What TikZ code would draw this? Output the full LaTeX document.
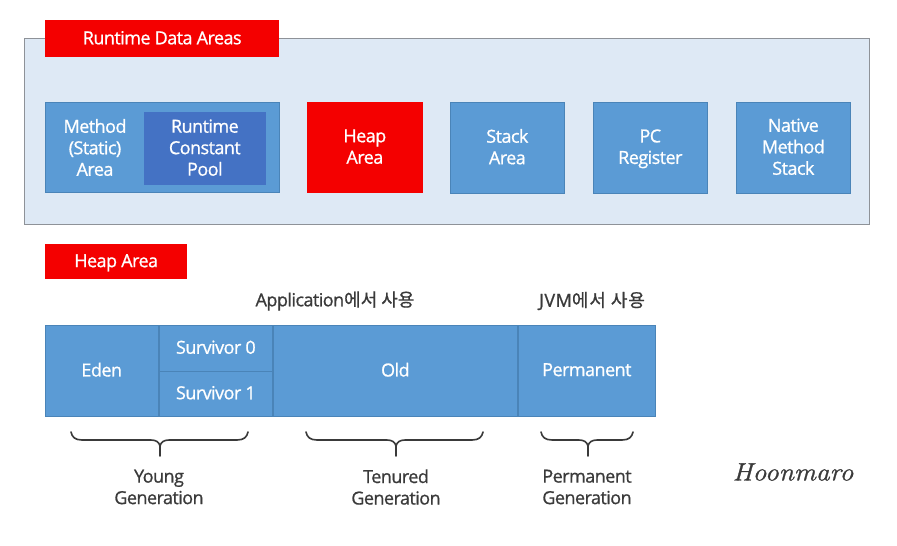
\documentclass[tikz,border=0pt]{standalone}
\usepackage{fontspec}
\setmainfont{Open Sans}[FakeBold=0.9]
\newfontfamily\krfont{Noto Sans CJK KR}[FakeBold=0.6]
\newfontfamily\signfont{Latin Modern Roman}[FakeBold=1.1,FakeStretch=1.1]
\definecolor{panelblue}{HTML}{DEE9F5}
\definecolor{panelline}{HTML}{8E9298}
\definecolor{boxblue}{HTML}{5B9BD5}
\definecolor{boxline}{HTML}{4A84B8}
\definecolor{deepblue}{HTML}{4472C4}
\definecolor{alertred}{HTML}{F40000}
\definecolor{inkgray}{HTML}{3A3A3A}
\tikzset{
  x=1pt,y=-1pt,
  lbl/.style={font=\fontsize{18}{21.5}\selectfont\addfontfeatures{LetterSpace=-3},align=center,inner sep=0pt},
  area/.style={draw=boxline,line width=0.6pt,fill=boxblue,text=white,lbl},
  deep/.style={fill=deepblue,text=white,lbl},
  redbox/.style={fill=alertred,text=white,lbl},
  dark/.style={text=inkgray,lbl},
  curly/.style={draw=inkgray,line width=1.6pt,line cap=round},
}
\newcommand{\upfix}{\\[-19.5pt]}
\newcommand{\boxat}[7]{\node[#1,minimum width=#5-#3-0.5,minimum height=#6-#4-0.3,anchor=north west] (#2) at (#3-0.2,#4) {#7\upfix};}
\newcommand{\curlybrace}[3]{% left, center, right
  \draw[curly] (#1,432) .. controls (#1+1,437) and (#1+4,440) .. (#1+11,440) -- (#2-9,440)
    .. controls (#2-4,440) and (#2-1,442) .. (#2,446) -- (#2,456);
  \draw[curly] (#3,432) .. controls (#3-1,437) and (#3-4,440) .. (#3-11,440) -- (#2+9,440)
    .. controls (#2+4,440) and (#2+1,442) .. (#2,446);
}
\begin{document}
\begin{tikzpicture}
\useasboundingbox (0,0) rectangle (897,546);
\node[draw=panelline,line width=1pt,fill=panelblue,minimum width=845,minimum height=186,anchor=north west,inner sep=0pt] (panel) at (24,38) {};
\node[redbox,minimum width=234,minimum height=37,anchor=north west] (title) at (45,20) {Runtime Data Areas\upfix};
\node[area,minimum width=234.8,minimum height=89.7,anchor=north west] (method) at (44.6,102) {};
\node[lbl,text=white] (methodlbl) at (95,147.5) {Method\\(Static)\\Area};
\boxat{deep}{pool}{144.2}{112}{266}{185}{Runtime\\Constant\\Pool}
\boxat{redbox}{heap}{307.2}{102}{423}{193}{Heap\\Area}
\boxat{area}{stack}{450}{102}{565}{193}{Stack\\Area}
\boxat{area}{pc}{593}{102}{708}{193}{PC\\Register}
\boxat{area}{native}{736}{102}{851}{193}{Native\\Method\\Stack}
\node[redbox,minimum width=142,minimum height=35,anchor=north west] (heaplabel) at (45,244) {Heap Area\upfix};
\node[dark] (app) at (335,301) {Application{\krfont 에서 사용}};
\node[dark] (jvm) at (592,301) {\addfontfeatures{LetterSpace=3}JVM{\krfont\addfontfeatures{LetterSpace=5} 에서 사용}};
\boxat{area}{eden}{44.8}{325}{159}{416}{Eden}
\boxat{area}{s0}{159}{325}{273}{371}{Survivor 0}
\boxat{area}{s1}{159}{371}{273}{416}{Survivor 1}
\boxat{area}{old}{273}{325}{518}{416}{Old}
\boxat{area}{perm}{518}{325}{656}{416}{Permanent}
\curlybrace{71}{160}{248}
\curlybrace{306}{396}{483}
\curlybrace{541}{588}{633}
\node[dark] (young) at (159,487) {Young\\Generation};
\node[dark] (tenured) at (396,487) {Tenured\\Generation};
\node[dark] (permgen) at (587,487) {Permanent\\Generation};
\node[text=inkgray,inner sep=0pt,font=\fontsize{25}{25}\selectfont\signfont\itshape] (sign) at (793,472) {Hoonmaro};
\end{tikzpicture}
\end{document}
